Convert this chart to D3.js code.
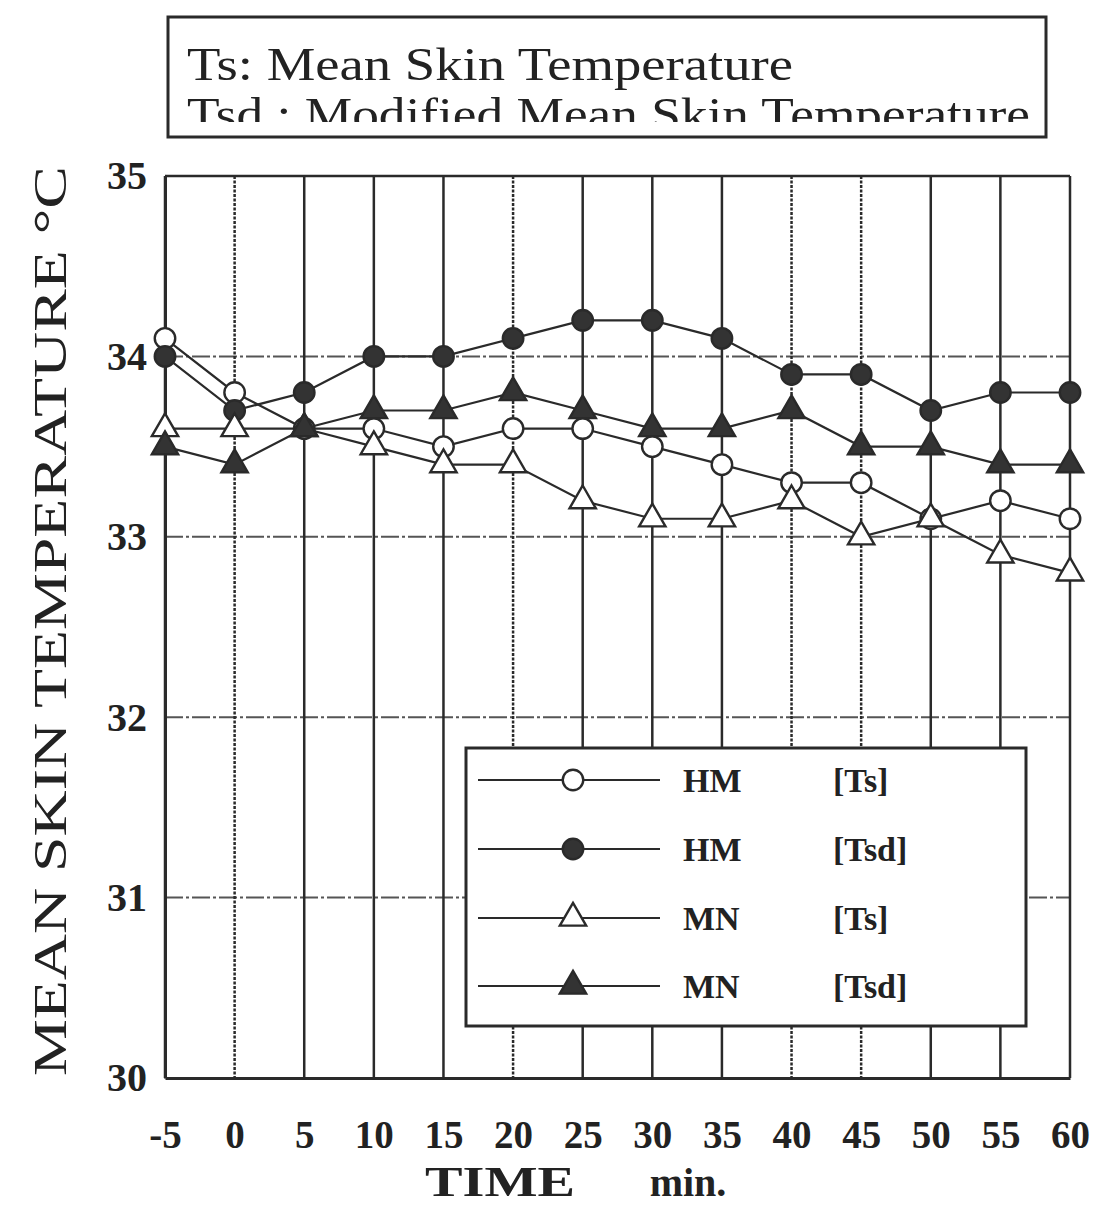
<!DOCTYPE html>
<html><head><meta charset="utf-8">
<script src="https://cdn.jsdelivr.net/npm/d3@7"></script>
<style>body{margin:0;background:#fff}svg{display:block}</style>
</head><body>
<script>
const times = [-5,0,5,10,15,20,25,30,35,40,45,50,55,60];
const hmTs  = [34.1,33.8,33.6,33.6,33.5,33.6,33.6,33.5,33.4,33.3,33.3,33.1,33.2,33.1];
const hmTsd = [34.0,33.7,33.8,34.0,34.0,34.1,34.2,34.2,34.1,33.9,33.9,33.7,33.8,33.8];
const mnTs  = [33.6,33.6,33.6,33.5,33.4,33.4,33.2,33.1,33.1,33.2,33.0,33.1,32.9,32.8];
const mnTsd = [33.5,33.4,33.6,33.7,33.7,33.8,33.7,33.6,33.6,33.7,33.5,33.5,33.4,33.4];
const yTicks = [30,31,32,33,34,35];
const seriesNames = ["HM","HM","MN","MN"];
const seriesTags = ["[Ts]","[Tsd]","[Ts]","[Tsd]"];
const dottedTimes = [0,20,40,45];

const W=1093,H=1207;
const FONT='"Liberation Serif","Times New Roman",serif';
const svg=d3.select("body").append("svg").attr("width",W).attr("height",H);
const x=d3.scaleLinear().domain([-5,60]).range([165,1070]);
const y=d3.scaleLinear().domain([30,35]).range([1078,176]);
const ink="#2a2a2a";

// horizontal grid
svg.append("g").selectAll("line").data(yTicks.filter(v=>v>30&&v<35)).join("line")
  .attr("x1",x(-5)).attr("x2",x(60)).attr("y1",d=>y(d)).attr("y2",d=>y(d))
  .attr("stroke","#555").attr("stroke-width",2).attr("stroke-dasharray","18,3,3,3");
// top line
svg.append("line").attr("x1",x(-5)).attr("x2",x(60)).attr("y1",y(35)).attr("y2",y(35))
  .attr("stroke",ink).attr("stroke-width",2.5);
// vertical grid
svg.append("g").selectAll("line").data(times).join("line")
  .attr("x1",d=>x(d)).attr("x2",d=>x(d)).attr("y1",y(35)).attr("y2",y(30))
  .attr("stroke",ink).attr("stroke-width",2.5)
  .attr("stroke-dasharray",d=>dottedTimes.includes(d)?"3,1.5":null);

// axes
const xAxis=svg.append("g").attr("transform",`translate(0,${y(30)})`)
  .call(d3.axisBottom(x).tickValues(times).tickSize(0).tickPadding(42).tickFormat(d=>String(d)));
xAxis.select(".domain").attr("stroke",ink).attr("stroke-width",3);
xAxis.selectAll("text").attr("font-family",FONT).attr("font-size",39).attr("font-weight","bold").attr("fill","#222");
const yAxis=svg.append("g").attr("transform",`translate(${x(-5)},0)`)
  .call(d3.axisLeft(y).tickValues(yTicks).tickSize(0).tickPadding(18).tickFormat(d=>String(d)));
yAxis.select(".domain").attr("stroke",ink).attr("stroke-width",3);
yAxis.selectAll("text").attr("font-family",FONT).attr("font-size",40).attr("font-weight","bold").attr("fill","#222");

// axis titles
svg.append("text").attr("x",500).attr("y",1196).attr("text-anchor","middle")
  .attr("font-family",FONT).attr("font-size",42).attr("font-weight","bold").attr("fill","#222")
  .attr("textLength",150).attr("lengthAdjust","spacingAndGlyphs").text("TIME");
svg.append("text").attr("x",688).attr("y",1196).attr("text-anchor","middle")
  .attr("font-family",FONT).attr("font-size",40).attr("font-weight","bold").attr("fill","#222").text("min.");
svg.append("text").attr("transform","translate(66,1076) rotate(-90)")
  .attr("font-family",FONT).attr("font-size",46).attr("fill","#222")
  .attr("textLength",910).attr("lengthAdjust","spacingAndGlyphs").text("MEAN SKIN TEMPERATURE °C");

// series
const series=[
  {vals:hmTs, shape:"circle", fill:"#fff"},
  {vals:hmTsd,shape:"circle", fill:"#333"},
  {vals:mnTs, shape:"triangle",fill:"#fff"},
  {vals:mnTsd,shape:"triangle",fill:"#333"}
];
const line=d3.line().x((d,i)=>x(times[i])).y(d=>y(d));
const symCircle=d3.symbol().type(d3.symbolCircle).size(330);
const symTri=d3.symbol().type(d3.symbolTriangle).size(300);
series.forEach(s=>{
  svg.append("path").attr("d",line(s.vals)).attr("fill","none").attr("stroke",ink).attr("stroke-width",2.2);
});
series.forEach(s=>{
  svg.append("g").selectAll("path").data(s.vals).join("path")
    .attr("transform",(d,i)=>`translate(${x(times[i])},${y(d)})`)
    .attr("d",s.shape==="circle"?symCircle():symTri())
    .attr("fill",s.fill).attr("stroke",ink).attr("stroke-width",2.4);
});

// legend box
const lg=svg.append("g");
lg.append("rect").attr("x",466).attr("y",748).attr("width",560).attr("height",278)
  .attr("fill","#fff").attr("stroke",ink).attr("stroke-width",3);
const rowY=[780,849,918,986];
series.forEach((s,i)=>{
  lg.append("line").attr("x1",478).attr("x2",660).attr("y1",rowY[i]).attr("y2",rowY[i])
    .attr("stroke",ink).attr("stroke-width",2);
  lg.append("path").attr("transform",`translate(573,${rowY[i]})`)
    .attr("d",s.shape==="circle"?symCircle():symTri())
    .attr("fill",s.fill).attr("stroke",ink).attr("stroke-width",2.4);
  lg.append("text").attr("x",683).attr("y",rowY[i]+12).attr("font-family",FONT)
    .attr("font-size",34).attr("font-weight","bold").attr("fill","#222").text(seriesNames[i]);
  lg.append("text").attr("x",833).attr("y",rowY[i]+12).attr("font-family",FONT)
    .attr("font-size",34).attr("font-weight","bold").attr("fill","#222").text(seriesTags[i]);
});

// top definition box
svg.append("defs").append("clipPath").attr("id","clipTop").append("rect")
  .attr("x",168).attr("y",18).attr("width",878).attr("height",104);
svg.append("rect").attr("x",168).attr("y",17).attr("width",878).attr("height",120)
  .attr("fill","#fff").attr("stroke",ink).attr("stroke-width",3);
const tg=svg.append("g").attr("clip-path","url(#clipTop)");
tg.append("text").attr("x",187).attr("y",80).attr("font-family",FONT).attr("font-size",46).attr("fill","#222")
  .attr("textLength",606).attr("lengthAdjust","spacingAndGlyphs").text("Ts: Mean Skin Temperature");
tg.append("text").attr("x",187).attr("y",130).attr("font-family",FONT).attr("font-size",46).attr("fill","#222")
  .attr("textLength",843).attr("lengthAdjust","spacingAndGlyphs").text("Tsd : Modified Mean Skin Temperature");
</script>
</body></html>
